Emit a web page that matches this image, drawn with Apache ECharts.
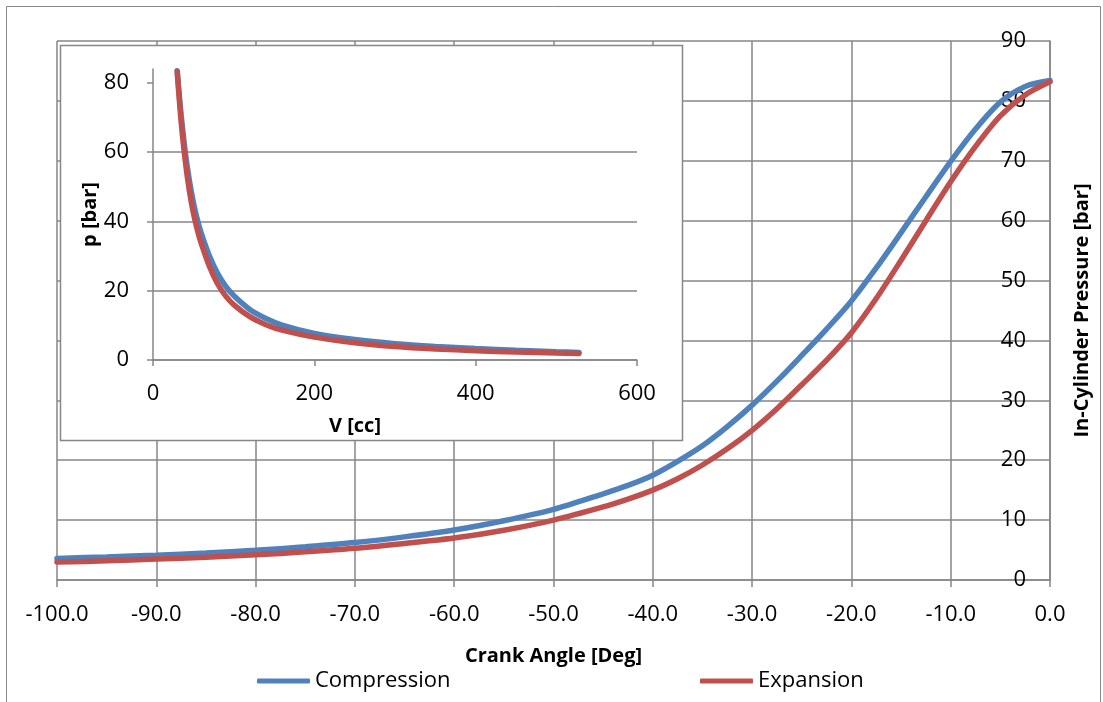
<!DOCTYPE html>
<html>
<head>
<meta charset="utf-8">
<script src="https://cdn.jsdelivr.net/npm/echarts@6/dist/echarts.min.js"></script>
<style>
html,body{margin:0;padding:0;background:#fff;}
#chart{width:1103px;height:702px;}
</style>
</head>
<body>
<div id="chart"></div>
<script>
// Main chart: crank angle vs in-cylinder pressure
const crankAngle = [-100, -95, -90, -85, -80, -75, -70, -65, -60, -55, -50, -45, -42.5, -40, -37.5, -35, -32.5, -30, -27.5, -25, -22.5, -20, -17.5, -15, -12.5, -10, -7.5, -5, -2.5, 0];
const compressionP = [3.6, 3.85, 4.15, 4.5, 4.95, 5.55, 6.25, 7.2, 8.35, 9.9, 11.8, 14.4, 15.8, 17.5, 19.8, 22.4, 25.6, 29.2, 33.2, 37.5, 41.9, 46.6, 52.1, 58.0, 64.0, 69.9, 75.3, 79.8, 82.4, 83.4];
const expansionP   = [3.0, 3.2, 3.5, 3.8, 4.2, 4.7, 5.3, 6.1, 7.0, 8.3, 10.0, 12.2, 13.5, 15.0, 16.9, 19.2, 21.9, 25.0, 28.6, 32.6, 36.7, 41.3, 47.0, 53.4, 60.0, 66.5, 72.4, 77.5, 81.0, 83.2];

// Inset: p-V diagram
const volumeCC = [30, 32, 35, 40, 45, 50, 55, 60, 70, 80, 90, 100, 120, 140, 160, 200, 250, 300, 350, 400, 450, 500, 528];
const pvCompressionP = [83.5, 78, 70.5, 60, 52, 45.5, 40.5, 36.5, 30, 25, 21.3, 18.6, 14.6, 12.0, 10.1, 7.7, 5.9, 4.7, 3.9, 3.3, 2.8, 2.4, 2.2];
const pvExpansionP   = [83.3, 77, 68.5, 57.5, 49, 42.5, 37.5, 33.5, 27, 22, 18.5, 16.0, 12.5, 10.2, 8.6, 6.6, 5.0, 3.9, 3.2, 2.7, 2.3, 2.0, 1.9];

// Tick settings
const mainXTicks = {min: -100, max: 0, interval: 10};
const mainYTicks = {min: 0, max: 90, interval: 10};
const insetXTicks = {min: 0, max: 600, interval: 200};
const insetYTickValues = [0, 20, 40, 60, 80];
const insetYMax = 84;

const seriesNames = ['Compression', 'Expansion'];
const colors = ['#4F81BD', '#C0504D'];

const FONT = 'Open Sans';
const GRID_COLOR = '#868686';

const zip = (xs, ys) => xs.map((x, i) => [x, ys[i]]);

const chart = echarts.init(document.getElementById('chart'), null, {renderer: 'canvas'});

const labelStyle = {fontFamily: FONT, fontSize: 22, color: '#000'};
const titleStyle = {fontFamily: FONT, fontSize: 20, fontWeight: 'bold', color: '#000'};

const option = {
  animation: false,
  backgroundColor: '#fff',
  color: colors,
  graphic: [
    {type: 'rect', z: 0, silent: true,
     shape: {x: 6.5, y: 6.5, width: 1094, height: 720},
     style: {fill: 'none', stroke: GRID_COLOR, lineWidth: 1}},
    {type: 'rect', z: 10, silent: true,
     shape: {x: 60.5, y: 45.5, width: 622, height: 395},
     style: {fill: '#fff', stroke: GRID_COLOR, lineWidth: 1.5}}
  ],
  legend: [
    {data: [seriesNames[0]], left: 252, top: 665, itemWidth: 53, itemHeight: 5, icon: 'roundRect',
     itemGap: 0, textStyle: Object.assign({}, labelStyle, {fontSize: 22}), selectedMode: false},
    {data: [seriesNames[1]], left: 695, top: 665, itemWidth: 53, itemHeight: 5, icon: 'roundRect',
     itemGap: 0, textStyle: Object.assign({}, labelStyle, {fontSize: 22}), selectedMode: false}
  ],
  grid: [
    {left: 57, right: 53, top: 41, bottom: 122},
    {left: 153, right: 466, top: 69, bottom: 342, z: 11}
  ],
  xAxis: [
    {gridIndex: 0, type: 'value', min: mainXTicks.min, max: mainXTicks.max, interval: mainXTicks.interval,
     position: 'bottom', z: 0,
     axisLine: {show: true, onZero: false, lineStyle: {color: GRID_COLOR, width: 1.5}},
     axisTick: {show: true, inside: false, length: 7, lineStyle: {color: GRID_COLOR, width: 1.5}},
     axisLabel: Object.assign({margin: 24, formatter: v => v.toFixed(1)}, labelStyle),
     splitLine: {show: true, lineStyle: {color: GRID_COLOR, width: 1.5}},
     name: 'Crank Angle [Deg]', nameLocation: 'middle', nameGap: 66, nameTextStyle: titleStyle},
    {gridIndex: 1, type: 'value', min: insetXTicks.min, max: insetXTicks.max, interval: insetXTicks.interval,
     position: 'bottom', z: 11,
     axisLine: {show: true, onZero: false, lineStyle: {color: GRID_COLOR, width: 1.5}},
     axisTick: {show: true, inside: false, length: 6, lineStyle: {color: GRID_COLOR, width: 1.5}},
     axisLabel: Object.assign({margin: 23}, labelStyle),
     splitLine: {show: false},
     name: 'V [cc]', nameLocation: 'middle', nameGap: 56,
     nameTextStyle: Object.assign({padding: [0, 80, 0, 0]}, titleStyle)}
  ],
  yAxis: [
    {gridIndex: 0, type: 'value', min: mainYTicks.min, max: mainYTicks.max, interval: mainYTicks.interval,
     position: 'right', z: 0,
     axisLine: {show: true, onZero: false, lineStyle: {color: GRID_COLOR, width: 1.5}},
     axisTick: {show: false},
     axisLabel: Object.assign({inside: true, margin: 24}, labelStyle),
     splitLine: {show: true, lineStyle: {color: GRID_COLOR, width: 1.5}},
     name: 'In-Cylinder Pressure [bar]', nameLocation: 'middle', nameGap: 22, nameRotate: 90,
     nameTextStyle: titleStyle},
    {gridIndex: 1, type: 'value', min: 0, max: insetYMax, interval: 20,
     position: 'left', z: 11,
     axisLine: {show: true, onZero: false, lineStyle: {color: GRID_COLOR, width: 1.5}},
     axisTick: {show: true, inside: false, length: 6, customValues: insetYTickValues,
                lineStyle: {color: GRID_COLOR, width: 1.5}},
     axisLabel: Object.assign({margin: 24, customValues: insetYTickValues,
                formatter: v => (v % 20 === 0 ? String(v) : '')}, labelStyle),
     splitLine: {show: true, showMaxLine: false, lineStyle: {color: GRID_COLOR, width: 1.5}},
     name: 'p [bar]', nameLocation: 'middle', nameGap: 50, nameRotate: 90,
     nameTextStyle: titleStyle}
  ],
  series: [
    {name: seriesNames[0], type: 'line', xAxisIndex: 0, yAxisIndex: 0, z: 2,
     data: zip(crankAngle, compressionP), showSymbol: false, smooth: 0.3,
     lineStyle: {color: colors[0], width: 5.5, cap: 'round'}, itemStyle: {color: colors[0]}},
    {name: seriesNames[1], type: 'line', xAxisIndex: 0, yAxisIndex: 0, z: 3,
     data: zip(crankAngle, expansionP), showSymbol: false, smooth: 0.3,
     lineStyle: {color: colors[1], width: 5.5, cap: 'round'}, itemStyle: {color: colors[1]}},
    {name: seriesNames[0], type: 'line', xAxisIndex: 1, yAxisIndex: 1, z: 12,
     data: zip(volumeCC, pvCompressionP), showSymbol: false, smooth: 0.3,
     lineStyle: {color: colors[0], width: 5.5, cap: 'round'}, itemStyle: {color: colors[0]}},
    {name: seriesNames[1], type: 'line', xAxisIndex: 1, yAxisIndex: 1, z: 13,
     data: zip(volumeCC, pvExpansionP), showSymbol: false, smooth: 0.3,
     lineStyle: {color: colors[1], width: 5.5, cap: 'round'}, itemStyle: {color: colors[1]}}
  ]
};

chart.setOption(option);
</script>
</body>
</html>
